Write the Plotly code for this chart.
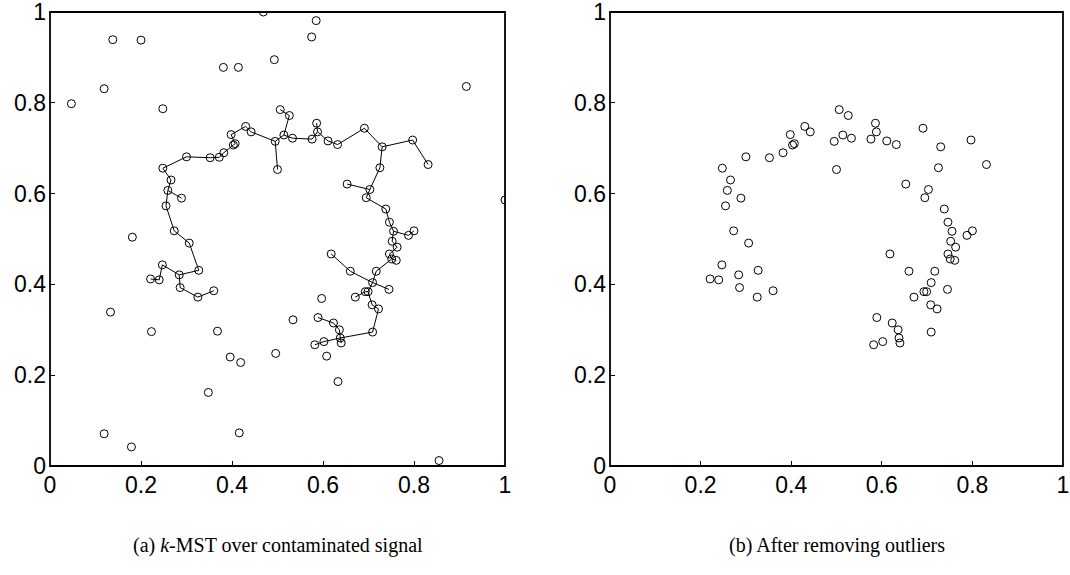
import plotly.graph_objects as go

# Signal points kept after outlier removal (shown in both panels)
sig_x = [0.430, 0.442, 0.398, 0.403, 0.407, 0.382, 0.352, 0.300, 0.248, 0.266,
         0.259, 0.289, 0.255, 0.273, 0.306, 0.247, 0.221, 0.240, 0.284, 0.327,
         0.286, 0.360, 0.325, 0.506, 0.526, 0.495, 0.514, 0.533, 0.500, 0.586,
         0.588, 0.576, 0.611, 0.632, 0.691, 0.730, 0.797, 0.831, 0.725, 0.653,
         0.703, 0.695, 0.738, 0.746, 0.755, 0.752, 0.763, 0.788, 0.800, 0.746,
         0.751, 0.761, 0.618, 0.660, 0.717, 0.709, 0.693, 0.699, 0.745, 0.671,
         0.708, 0.722, 0.589, 0.623, 0.636, 0.638, 0.640, 0.582, 0.602, 0.709]
sig_y = [0.748, 0.736, 0.730, 0.707, 0.710, 0.690, 0.679, 0.681, 0.656, 0.630,
         0.607, 0.590, 0.573, 0.518, 0.491, 0.443, 0.412, 0.410, 0.421, 0.431,
         0.393, 0.386, 0.372, 0.785, 0.772, 0.715, 0.729, 0.722, 0.653, 0.755,
         0.736, 0.720, 0.716, 0.708, 0.744, 0.703, 0.718, 0.664, 0.657, 0.621,
         0.609, 0.591, 0.566, 0.537, 0.517, 0.495, 0.482, 0.508, 0.518, 0.467,
         0.456, 0.453, 0.467, 0.429, 0.429, 0.404, 0.384, 0.384, 0.389, 0.372,
         0.355, 0.346, 0.327, 0.315, 0.300, 0.282, 0.271, 0.267, 0.274, 0.295]

# Outliers (left panel only); the first one is picked up by the k-MST
out_x = [0.372, 0.469, 0.138, 0.200, 0.119, 0.047, 0.248, 0.381, 0.414, 0.181,
         0.585, 0.575, 0.493, 0.915, 1.000, 0.133, 0.223, 0.368, 0.396, 0.419,
         0.348, 0.119, 0.179, 0.416, 0.534, 0.496, 0.597, 0.608, 0.633, 0.855]
out_y = [0.680, 1.000, 0.939, 0.938, 0.831, 0.798, 0.787, 0.878, 0.878, 0.504,
         0.981, 0.945, 0.895, 0.836, 0.586, 0.339, 0.296, 0.297, 0.240, 0.228,
         0.162, 0.071, 0.042, 0.073, 0.322, 0.248, 0.369, 0.242, 0.186, 0.012]

# k-MST edges (1-based point numbers; 71 = first outlier)
edges = [(17, 18), (18, 16), (16, 19), (19, 20), (20, 15), (15, 14), (14, 13),
         (13, 11), (11, 10), (11, 12), (10, 9), (19, 21), (21, 23), (23, 22),
         (9, 8), (8, 7), (7, 71), (71, 6), (6, 4), (4, 5), (5, 3), (3, 1),
         (1, 2), (2, 26), (26, 29), (26, 27), (27, 25), (25, 24), (27, 28),
         (28, 32), (32, 31), (31, 30), (31, 33), (33, 34), (34, 35), (35, 36),
         (36, 37), (37, 38), (36, 39), (39, 41), (40, 41), (41, 42), (42, 43),
         (43, 44), (44, 45), (45, 48), (48, 49), (45, 46), (46, 47), (47, 50),
         (50, 51), (51, 52), (51, 55), (55, 56), (56, 59), (56, 54), (54, 53),
         (56, 58), (57, 58), (57, 60), (58, 61), (61, 62), (62, 70), (70, 66),
         (66, 65), (65, 64), (64, 63), (66, 67), (66, 69), (69, 68)]

tick_vals = [0, 0.2, 0.4, 0.6, 0.8, 1]
tick_text = ["0", "0.2", "0.4", "0.6", "0.8", "1"]
captions = ["(a) <i>k</i>-MST over contaminated signal", "(b) After removing outliers"]

all_x = sig_x + out_x
all_y = sig_y + out_y
ex, ey = [], []
for a, b in edges:
    ex += [all_x[a - 1], all_x[b - 1], None]
    ey += [all_y[a - 1], all_y[b - 1], None]

marker = dict(symbol="circle-open", size=8, color="black", line=dict(width=1, color="black"))

fig = go.Figure()
fig.add_trace(go.Scatter(x=ex, y=ey, mode="lines", line=dict(color="black", width=1),
                         xaxis="x", yaxis="y", hoverinfo="skip"))
fig.add_trace(go.Scatter(x=all_x, y=all_y, mode="markers", marker=marker, xaxis="x", yaxis="y"))
fig.add_trace(go.Scatter(x=sig_x, y=sig_y, mode="markers", marker=marker, xaxis="x2", yaxis="y2"))

W, H = 1070, 575
base = dict(range=[0, 1], showgrid=False, zeroline=False, showline=False,
            ticks="inside", ticklen=5, tickcolor="black", tickwidth=1.2, tickvals=tick_vals)
ax_common = dict(base, ticktext=tick_text, ticklabeloverflow="allow", ticklabelstandoff=3,
                 tickfont=dict(family="Liberation Sans, Arial", size=23, color="black"))
ax_over = dict(base, showticklabels=False)
ydom = [1 - 466 / H, 1 - 12 / H]
fig.update_layout(
    width=W, height=H, margin=dict(l=0, r=0, t=0, b=0, autoexpand=False),
    paper_bgcolor="white", plot_bgcolor="white", showlegend=False,
    xaxis=dict(domain=[50 / W, 505 / W], anchor="y", **ax_common),
    yaxis=dict(domain=ydom, anchor="x", **ax_common),
    xaxis2=dict(domain=[610 / W, 1063 / W], anchor="y2", **ax_common),
    yaxis2=dict(domain=ydom, anchor="x2", **ax_common),
    xaxis3=dict(overlaying="x", side="top", anchor="y", **ax_over),
    yaxis3=dict(overlaying="y", side="right", anchor="x", **ax_over),
    xaxis4=dict(overlaying="x2", side="top", anchor="y2", **ax_over),
    yaxis4=dict(overlaying="y2", side="right", anchor="x2", **ax_over),
)
for xr, yr in [("x", "y"), ("x2", "y2")]:
    fig.add_shape(type="rect", xref=f"{xr} domain", yref=f"{yr} domain", x0=0, x1=1, y0=0, y1=1,
                  line=dict(color="black", width=1.8), fillcolor="rgba(0,0,0,0)", layer="above")
for cx, txt in zip([277.5, 836.5], captions):
    fig.add_annotation(x=cx / W, y=1 - 545 / H, xref="paper", yref="paper", text=txt,
                       showarrow=False, xanchor="center", yanchor="middle",
                       font=dict(family="Liberation Serif, Times New Roman", size=20, color="black"))

fig.write_html("out.html")
